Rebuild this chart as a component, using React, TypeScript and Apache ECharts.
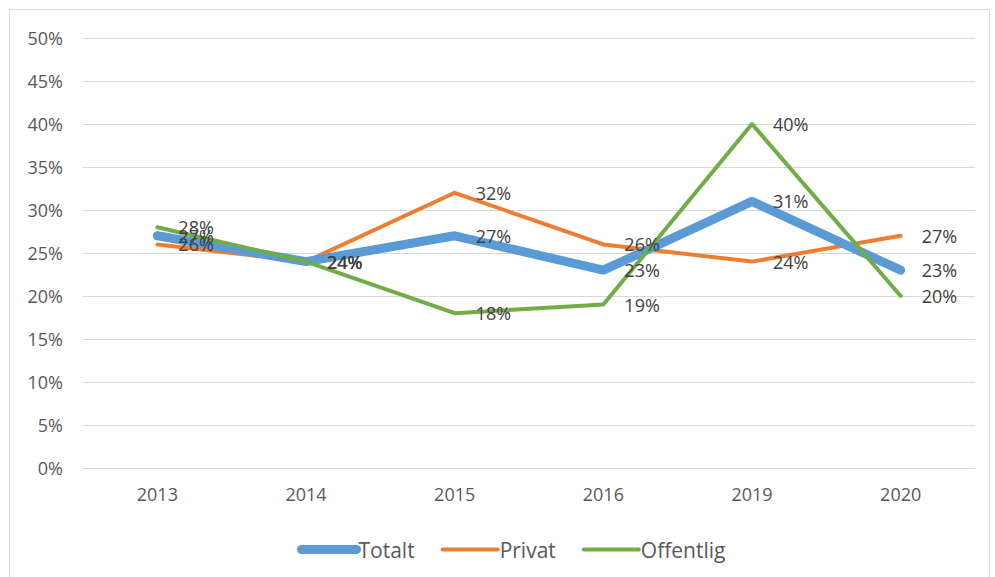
import React, { useEffect, useRef } from "react";
import * as echarts from "echarts";

const categories = ["2013", "2014", "2015", "2016", "2019", "2020"];
const totalt = [27, 24, 27, 23, 31, 23];
const privat = [26, 24, 32, 26, 24, 27];
const offentlig = [28, 24, 18, 19, 40, 20];
const seriesNames = ["Totalt", "Privat", "Offentlig"];
const colors = ["#5B9BD5", "#ED7D31", "#70AD47"];
const widths = [9, 4, 4];

export default function App() {
  const ref = useRef<HTMLDivElement>(null);
  useEffect(() => {
    if (!ref.current) return;
    const chart = echarts.init(ref.current, null, { renderer: "svg" });
    const font = "'Open Sans', 'Noto Sans', sans-serif";
    const label = {
      show: true,
      position: "right",
      distance: 21,
      formatter: (p: any) => p.value + "%",
      color: "#404040",
      fontSize: 18,
      fontFamily: font,
    };
    const mk = (name: string, data: number[], color: string, width: number) => ({
      name,
      type: "line",
      data,
      symbol: "circle",
      symbolSize: 0,
      showSymbol: true,
      lineStyle: { color, width, cap: "round", join: "round" },
      itemStyle: { color },
      label,
      labelLayout: { hideOverlap: false },
    });
    chart.setOption({
      animation: false,
      textStyle: { fontFamily: font },
      graphic: [
        {
          type: "rect",
          shape: { x: 9.5, y: 9.5, width: 980, height: 580 },
          style: { fill: "none", stroke: "#d9d9d9", lineWidth: 1 },
          silent: true,
        },
      ],
      grid: { left: 83, right: 20, top: 38, bottom: 109, containLabel: false },
      legend: {
        top: 534,
        left: 292,
        data: seriesNames.map((n, i) => ({
          name: n,
          itemStyle: { opacity: 0 },
          lineStyle: { width: widths[i], color: colors[i], cap: "round" },
        })),
        itemWidth: 55,
        itemHeight: 12,
        itemGap: 26,
        textStyle: { color: "#595959", fontSize: 21, fontFamily: font, padding: [0, 0, 0, -3] },
      },
      xAxis: {
        type: "category",
        data: categories,
        boundaryGap: true,
        axisLine: { show: true, lineStyle: { color: "#d9d9d9" } },
        axisTick: { show: false },
        axisLabel: { color: "#595959", fontSize: 18, margin: 17, fontFamily: font },
      },
      yAxis: {
        type: "value",
        min: 0,
        max: 50,
        interval: 5,
        axisLine: { show: false },
        axisTick: { show: false },
        axisLabel: {
          color: "#595959",
          fontSize: 18,
          margin: 20,
          fontFamily: font,
          formatter: (v: number) => v + "%",
        },
        splitLine: { lineStyle: { color: "#d9d9d9", width: 1 } },
      },
      series: [
        mk("Privat", privat, colors[1], widths[1]),
        mk("Totalt", totalt, colors[0], widths[0]),
        mk("Offentlig", offentlig, colors[2], widths[2]),
      ],
    });
    return () => chart.dispose();
  }, []);
  return (
    <div
      ref={ref}
      style={{ position: "fixed", left: 0, top: 0, width: 995, height: 577, background: "#fff" }}
    />
  );
}
